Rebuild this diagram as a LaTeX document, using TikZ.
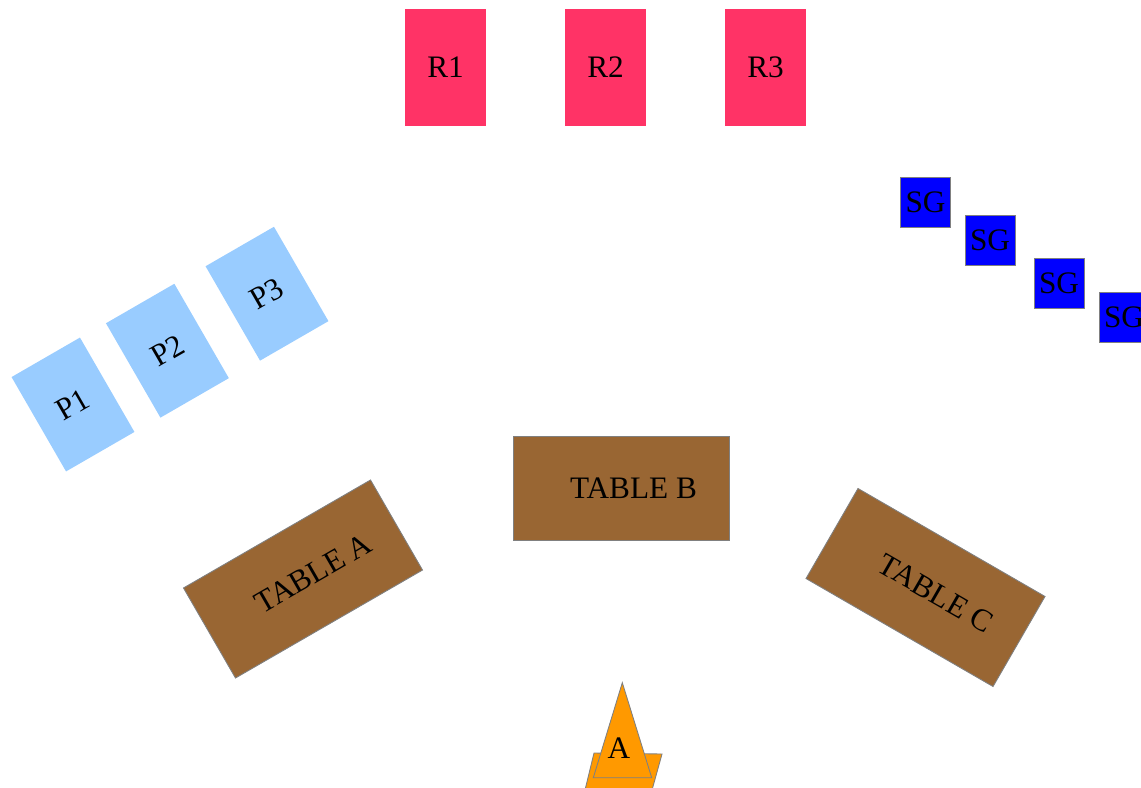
\documentclass[tikz,border=0pt]{standalone}
\usepackage{fontspec}
\setmainfont{Liberation Serif}
\usepackage{xcolor}
\definecolor{rackred}{HTML}{FF3366}
\definecolor{podblue}{HTML}{99CCFF}
\definecolor{sgblue}{HTML}{0000FF}
\definecolor{tablebrown}{HTML}{996633}
\definecolor{coneorange}{HTML}{FF9900}
\definecolor{edgegray}{HTML}{808080}

\begin{document}
\begin{tikzpicture}[x=0.02cm,y=-0.02cm]
            \tikzset{
            lay node/.style={rectangle,inner sep=0,font=\fontsize{17.8}{20}\selectfont},
            rack node/.style={lay node,fill=rackred,minimum width=1.62cm,minimum height=2.34cm},
            pod node/.style={lay node,fill=podblue,minimum width=1.58cm,minimum height=2.18cm,rotate=30},
            sg node/.style={lay node,fill=sgblue,draw=edgegray,line width=0.5pt,minimum size=1cm},
            table node/.style={lay node,fill=tablebrown,draw=edgegray,line width=0.5pt,minimum width=4.32cm,minimum height=2.08cm},
            cone part/.style={fill=coneorange,draw=edgegray,line width=0.5pt}
            }
            \useasboundingbox (0,0) rectangle (1141,787);
            % racks
            \node[rack node] (r1) at (445.5, 67.5) {R1};
            \node[rack node] (r2) at (605.5, 67.5) {R2};
            \node[rack node] (r3) at (765.5, 67.5) {R3};
            % pods
            \node[pod node] (p1) at (73.0, 404.5) {P1};
            \node[pod node] (p2) at (167.4, 350.7) {P2};
            \node[pod node] (p3) at (267.0, 293.7) {P3};
            % SG boxes
            \node[sg node] (sg1) at (925.5, 202.5) {SG};
            \node[sg node] (sg2) at (990.0, 240.0) {SG};
            \node[sg node] (sg3) at (1059.0, 283.5) {SG};
            \node[sg node] (sg4) at (1124.0, 317.0) {SG};
            % tables
            \node[table node,rotate=30] (ta) at (303.0, 579.0) {\hspace*{0.48cm}TABLE A};
            \node[table node] (tb) at (621.5, 488.5) {\hspace*{0.48cm}TABLE B};
            \node[table node,rotate=-30] (tc) at (925.5, 587.5) {\hspace*{0.48cm}TABLE C};
            % cone
            \path[cone part] (594, 753) -- (662, 754) -- (652, 790) -- (585, 790) -- cycle;
            \path[cone part] (593.3, 777.7) -- (622.3, 682.7) -- (651.7, 777.7) -- cycle;
            \node[lay node] (a) at (619, 748) {A};
        \end{tikzpicture}
\end{document}
